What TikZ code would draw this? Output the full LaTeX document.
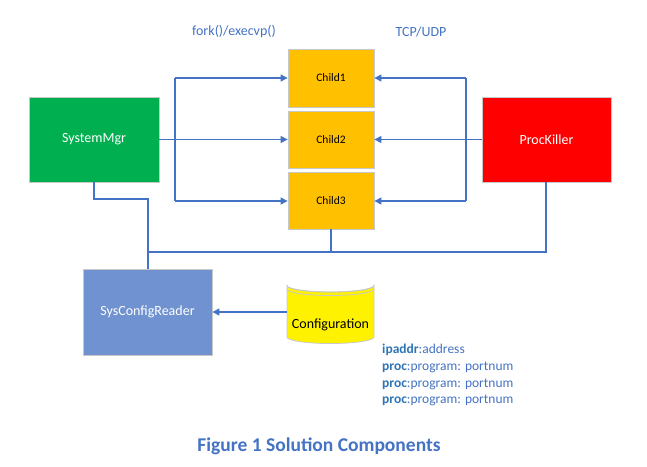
\documentclass[tikz,border=0pt]{standalone}
\usepackage{fontspec}
\setmainfont{Carlito}
\usetikzlibrary{arrows.meta}
\definecolor{lineblue}{HTML}{4472C4}
\definecolor{boldblue}{HTML}{2E75B6}
\definecolor{mgrgreen}{HTML}{00B050}
\definecolor{childgold}{HTML}{FFC000}
\definecolor{readerblue}{HTML}{7092D0}
\definecolor{edgegray}{HTML}{C8C8C8}
\tikzset{
  box/.style={draw=edgegray, line width=0.8pt, inner sep=0pt, font=\fontsize{14}{16}\selectfont},
  childbox/.style={box, fill=childgold, minimum width=86pt, font=\fontsize{11.5}{13}\selectfont},
  conn/.style={draw=lineblue, line width=1.2pt},
  arr/.style={conn, -{Triangle[length=7pt,width=7pt]}},
  lbl/.style={text=lineblue, inner sep=0pt, font=\fontsize{14}{16}\selectfont}
}
\begin{document}
\begin{tikzpicture}[x=1pt,y=-1pt]
\useasboundingbox (0,0) rectangle (647,466);
% nodes
\node[box, fill=mgrgreen, text=white, minimum width=130pt, minimum height=85pt] (mgr) at (94,139.5) {SystemMgr};
\node[box, fill=red, text=white, minimum width=129pt, minimum height=85pt] (killer) at (546.5,139.5) {ProcKiller};
\node[childbox, minimum height=58pt] (c1) at (331,78) {Child1};
\node[childbox, minimum height=57pt] (c2) at (331,139.5) {Child2};
\node[childbox, minimum height=57pt] (c3) at (331,200.5) {Child3};
\node[box, fill=readerblue, text=white, minimum width=129pt, minimum height=86pt] (reader) at (147.5,312) {SysConfigReader};
% cylinder
\filldraw[fill=yellow, draw=edgegray, line width=0.8pt]
  (287,285.5) -- (287,337) arc[start angle=180, end angle=360, x radius=43.5pt, y radius=6.5pt]
  -- (374,285.5) arc[start angle=0, end angle=-180, x radius=43.5pt, y radius=6.5pt] -- cycle;
\draw[draw=edgegray, line width=0.8pt] (287,285.5) arc[start angle=180, end angle=360, x radius=43.5pt, y radius=6.5pt];
\draw[draw=edgegray, line width=0.8pt] (287,289) arc[start angle=180, end angle=360, x radius=43.5pt, y radius=6.5pt];
\node[inner sep=0pt, minimum width=87pt, minimum height=64pt] (cfg) at (330.5,312) {};
\node[inner sep=0pt, font=\fontsize{14}{16}\selectfont] (cfgtext) at (330.5,325) {Configuration};
% labels
\node[lbl] (forklbl) at (234,32) {fork()/execvp()};
\node[lbl] (tcplbl) at (421,32) {TCP/UDP};
% bus coordinates
\coordinate (lt) at (175,78);
\coordinate (lb) at (175,201);
\coordinate (rt) at (466,78);
\coordinate (rb) at (466,201);
\draw[conn] (lt) -- (lb);
\draw[conn] (rt) -- (rb);
\draw[arr] (lt) -- (c1.west);
\draw[arr] (mgr.east) -- (c2.west);
\draw[arr] (lb) -- (c3.west |- lb);
\draw[arr] (rt) -- (c1.east);
\draw[arr] (killer.west) -- (c2.east);
\draw[arr] (rb) -- (c3.east |- rb);
% bottom wiring
\coordinate (m1) at (94,199);
\coordinate (m2) at (148,199);
\coordinate (hj) at (148,252);
\coordinate (c3d) at (331,252);
\coordinate (kd) at (546,252);
\draw[conn] (mgr.south -| m1) -- (m1) -- (m2) -- (reader.north -| m2);
\draw[conn] (c3.south) -- (c3d);
\draw[conn] (killer.south -| kd) -- (kd) -- (hj);
\draw[arr] (cfg.west) -- (reader.east);
% config list
\node[lbl, anchor=north west, align=left, font=\fontsize{13.5}{16.7}\selectfont] (list) at (382,344)
  {\textcolor{boldblue}{\textbf{ipaddr}}:address\\
   \textcolor{boldblue}{\textbf{proc}}:program: portnum\\
   \textcolor{boldblue}{\textbf{proc}}:program: portnum\\
   \textcolor{boldblue}{\textbf{proc}}:program: portnum};
% caption
\node[lbl, font=\fontsize{19.5}{22}\selectfont\bfseries] (caption) at (319,446) {Figure 1 Solution Components};
\end{tikzpicture}
\end{document}
